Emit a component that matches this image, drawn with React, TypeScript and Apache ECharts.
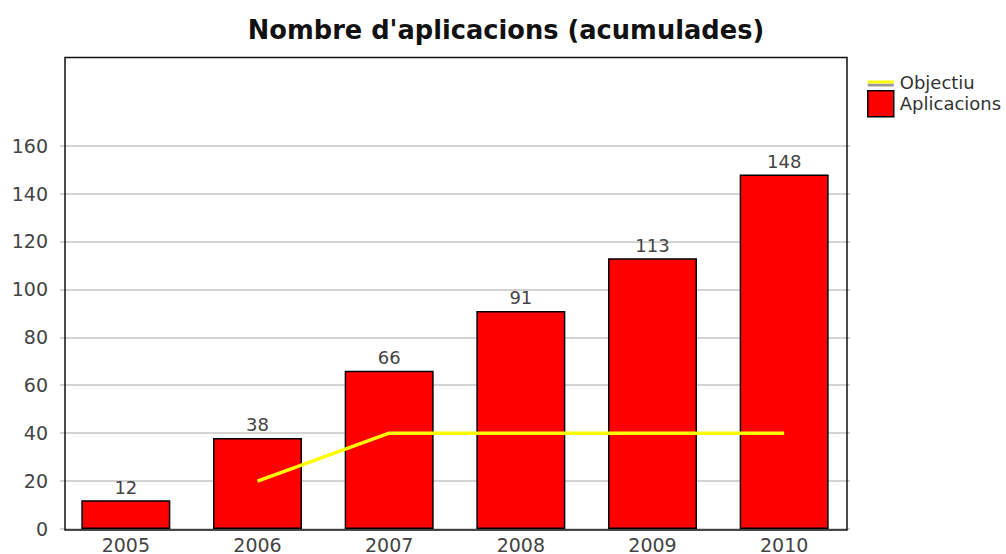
import React, { useEffect, useRef } from "react";
import * as echarts from "echarts";

const title = "Nombre d'aplicacions (acumulades)";
const years = ["2005", "2006", "2007", "2008", "2009", "2010"];
const aplicacions = [12, 38, 66, 91, 113, 148];
const objectiu: (number | null)[] = [null, 20, 40, 40, 40, 40];
const yTicks = [0, 20, 40, 60, 80, 100, 120, 140, 160];
const yMax = 197;

const FONT = "DejaVu Sans";

export default function App() {
  const ref = useRef<HTMLDivElement>(null);
  useEffect(() => {
    if (!ref.current) return;
    const chart = echarts.init(ref.current, null, { renderer: "svg" });
    chart.setOption({
      animation: false,
      backgroundColor: "#ffffff",
      title: {
        text: title,
        left: 501,
        textAlign: "center",
        top: 12,
        textStyle: { fontFamily: FONT, fontSize: 25.7, fontWeight: "bold", color: "#111" },
      },
      legend: {
        orient: "vertical",
        left: 867,
        top: 73,
        padding: 0,
        itemWidth: 26,
        itemHeight: 26,
        itemGap: -1,
        textStyle: { fontFamily: FONT, fontSize: 18, color: "#333", padding: [0, 0, 0, 1] },
        data: [
          {
            name: "Objectiu",
            icon: "path://M0,0 H26 V3 H0 Z",
            itemStyle: {
              color: "#ffff00",
              shadowColor: "#999999",
              shadowOffsetY: 3,
              shadowBlur: 0,
            },
          },
          {
            name: "Aplicacions",
            icon: "rect",
            itemStyle: { color: "#ff0000", borderColor: "#000", borderWidth: 1.5 },
          },
        ],
      },
      graphic: [
        {
          type: "rect",
          shape: { x: 65, y: 57.5, width: 782, height: 472.5 },
          style: { fill: "none", stroke: "#111", lineWidth: 1.5 },
          z: 100,
          silent: true,
        },
      ],
      grid: {
        left: 60,
        right: 156,
        top: 57,
        bottom: 24,
        show: false,
      },
      xAxis: {
        type: "category",
        data: years,
        axisLine: { show: false },
        axisTick: { show: false },
        axisLabel: { fontFamily: FONT, fontSize: 19, color: "#444", margin: 6 },
      },
      yAxis: {
        type: "value",
        min: 0,
        max: yMax,
        interval: 20,
        offset: -5,
        axisLine: { show: false },
        axisTick: { show: false, customValues: yTicks },
        axisLabel: { fontFamily: FONT, fontSize: 19, color: "#444", margin: 17, customValues: yTicks },
        splitLine: { show: true, lineStyle: { color: "#c4c4c4", width: 1.5 } },
      },
      series: [
        {
          name: "Aplicacions",
          type: "bar",
          data: aplicacions,
          barWidth: 89,
          itemStyle: { color: "#ff0000", borderColor: "#000", borderWidth: 1.5 },
          label: {
            show: true,
            position: "top",
            distance: 4,
            fontFamily: FONT,
            fontSize: 18,
            color: "#444",
          },
        },
        {
          name: "Objectiu",
          type: "line",
          data: objectiu,
          symbol: "none",
          lineStyle: { color: "#ffff00", width: 3.5 },
          itemStyle: { color: "#ffff00" },
          z: 5,
        },
      ],
    });
    return () => chart.dispose();
  }, []);
  return (
    <div
      ref={ref}
      style={{ position: "absolute", left: 0, top: 0, width: 1006, height: 554 }}
    />
  );
}
